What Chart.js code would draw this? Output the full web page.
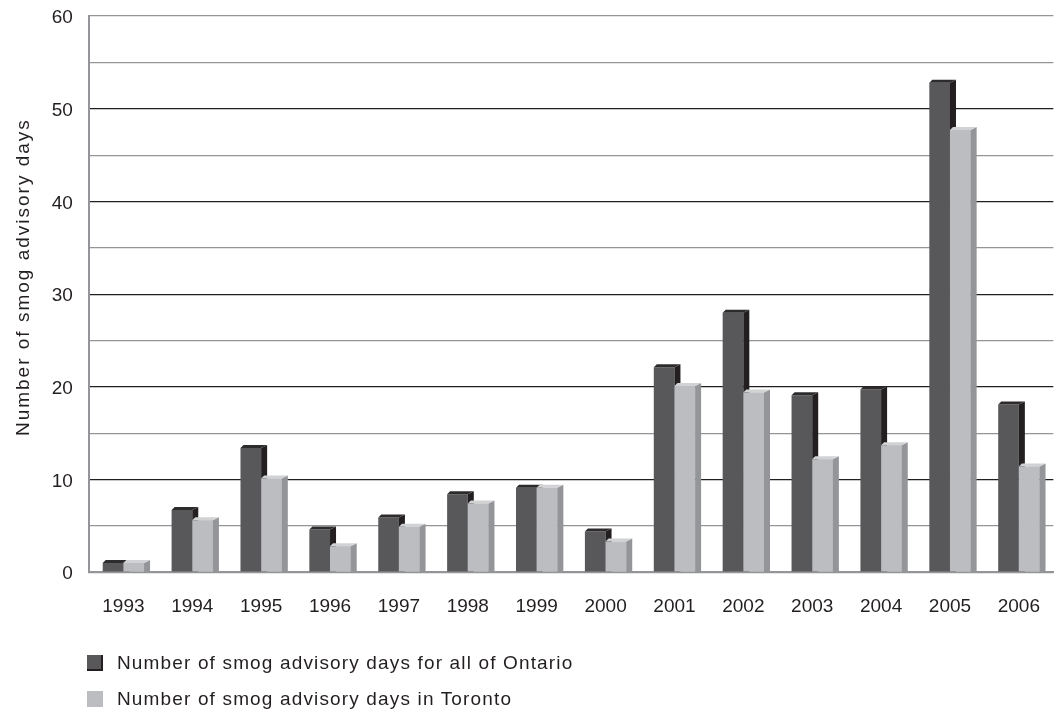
<!DOCTYPE html>
<html>
<head>
<meta charset="utf-8">
<script src="https://cdn.jsdelivr.net/npm/chart.js@4/dist/chart.umd.min.js"></script>
<style>
  html, body { margin: 0; padding: 0; background: #ffffff; }
  #wrap { position: relative; width: 1055px; height: 713px; overflow: hidden; }
  #c { position: absolute; left: 0; top: 0; }
  .leg { position: absolute; left: 87px; font-family: "Liberation Sans", Arial, sans-serif; font-size: 19px; letter-spacing: 1.15px; color: #231f20; white-space: nowrap; }
  .sw { position: absolute; left: 0; width: 16px; height: 16px; box-sizing: border-box; }
  .lt { position: absolute; left: 30px; line-height: 20px; }
</style>
</head>
<body>
<div id="wrap">
  <canvas id="c" width="1055" height="713"></canvas>
  <div class="leg" style="top:655px;">
    <div class="sw" style="background:#58585a; border-right:2px solid #231f20; border-bottom:2px solid #231f20;"></div>
    <div class="lt" style="top:-2px;">Number of smog advisory days for all of Ontario</div>
  </div>
  <div class="leg" style="top:691px;">
    <div class="sw" style="background:#bcbdc0;"></div>
    <div class="lt" style="top:-2px;">Number of smog advisory days in Toronto</div>
  </div>
</div>
<script>
const years = ['1993','1994','1995','1996','1997','1998','1999','2000','2001','2002','2003','2004','2005','2006'];
const ontarioDays = [1.0, 6.7, 13.4, 4.6, 5.9, 8.4, 9.1, 4.4, 22.1, 28.0, 19.1, 19.7, 52.8, 18.1];
const torontoDays = [1.0, 5.6, 10.1, 2.8, 4.9, 7.4, 9.1, 3.3, 20.1, 19.4, 12.2, 13.7, 47.7, 11.4];
const seriesNames = ['Number of smog advisory days for all of Ontario', 'Number of smog advisory days in Toronto'];
const yTitle = 'Number of smog advisory days';

const FONT = '"Liberation Sans", Arial, sans-serif';
const faceColors = [
  { side: '#231f20', top: '#2e2b2c' },
  { side: '#939598', top: '#d1d2d4' }
];
const DX = 6, DY = 3;

function drawFaces(ctx, meta, cols) {
  meta.data.forEach(el => {
    const p = el.getProps(['x', 'y', 'base', 'width'], true);
    const left = p.x - p.width / 2, right = p.x + p.width / 2;
    const top = p.y, base = p.base;
    ctx.fillStyle = cols.side;
    ctx.beginPath();
    ctx.moveTo(right, top);
    ctx.lineTo(right + DX, top - DY);
    ctx.lineTo(right + DX, base);
    ctx.lineTo(right, base);
    ctx.closePath();
    ctx.fill();
    ctx.fillStyle = cols.top;
    ctx.beginPath();
    ctx.moveTo(left, top);
    ctx.lineTo(left + DX * 0.5, top - DY);
    ctx.lineTo(right + DX, top - DY);
    ctx.lineTo(right, top);
    ctx.closePath();
    ctx.fill();
  });
}

const bar3d = {
  id: 'bar3d',
  afterLayout(chart) {
    const s = chart.scales.y;
    if (s && !s._spacedTitle) {
      const orig = s.drawTitle.bind(s);
      s.drawTitle = function () {
        this.ctx.save();
        this.ctx.letterSpacing = '2px';
        this.ctx.translate(0, -17);
        orig();
        this.ctx.restore();
      };
      s._spacedTitle = true;
    }
  },
  afterDatasetsDraw(chart) {
    const ctx = chart.ctx;
    ctx.save();
    const m0 = chart.getDatasetMeta(0);
    const m1 = chart.getDatasetMeta(1);
    drawFaces(ctx, m0, faceColors[0]);
    m1.data.forEach(el => el.draw(ctx, chart.chartArea));
    drawFaces(ctx, m1, faceColors[1]);
    ctx.restore();
  }
};

new Chart(document.getElementById('c'), {
  type: 'bar',
  data: {
    labels: years,
    datasets: [
      { label: seriesNames[0], data: ontarioDays, backgroundColor: '#58585a', borderWidth: 0 },
      { label: seriesNames[1], data: torontoDays, backgroundColor: '#bcbdc0', borderWidth: 0 }
    ]
  },
  options: {
    responsive: false,
    animation: false,
    events: [],
    layout: { padding: { top: 0, right: -8, bottom: 80, left: 0 } },
    plugins: {
      legend: { display: false },
      tooltip: { enabled: false }
    },
    datasets: { bar: { categoryPercentage: 0.6, barPercentage: 1.0 } },
    scales: {
      x: {
        grid: { display: false },
        border: { display: true, color: '#939598', width: 2 },
        ticks: { color: '#231f20', font: { family: FONT, size: 19 }, padding: 15, maxRotation: 0 }
      },
      y: {
        min: 0, max: 60,
        ticks: {
          stepSize: 5,
          color: '#231f20',
          font: { family: FONT, size: 19, lineHeight: 0.01 },
          padding: 16,
          labelOffset: 2,
          callback: v => (v % 10 === 0 ? String(v) : '')
        },
        grid: {
          drawTicks: false,
          color: c => {
            const v = c.tick ? c.tick.value : 0;
            if (v === 0 || v === 60) return '#939598';
            return v % 10 === 0 ? '#231f20' : '#939598';
          },
          lineWidth: 1.2
        },
        border: { display: true, color: '#939598', width: 2 },
        title: {
          display: true,
          text: yTitle,
          color: '#231f20',
          font: { family: FONT, size: 19 },
          padding: { top: 12, bottom: 1 }
        }
      }
    }
  },
  plugins: [bar3d]
});
</script>
</body>
</html>
